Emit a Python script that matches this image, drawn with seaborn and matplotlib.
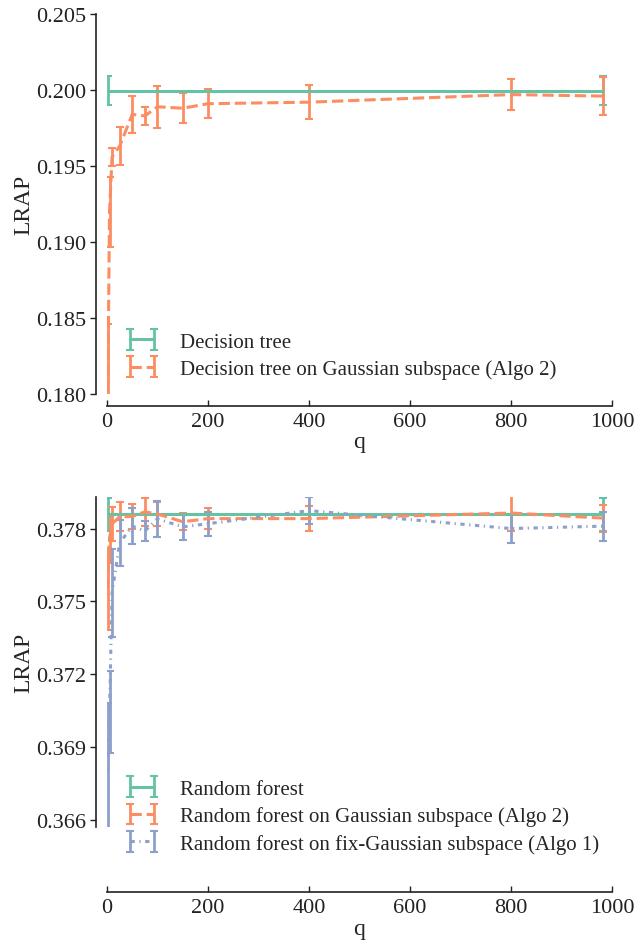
import numpy as np
import pandas as pd
import matplotlib
matplotlib.use("Agg")
import matplotlib.pyplot as plt
import seaborn as sns

# ---------------- data ----------------
q_base = [1, 983]

dt_mean = [0.19996, 0.19996]
dt_err = [0.00095, 0.00095]

q_dt_gauss = [1, 5, 10, 25, 50, 75, 100, 150, 200, 400, 800, 983]
dt_gauss_mean = [0.1780, 0.1920, 0.1956, 0.1963, 0.1984, 0.1983, 0.1989, 0.1988, 0.1991, 0.1992, 0.1997, 0.1996]
dt_gauss_err = [0.0066, 0.0023, 0.0006, 0.00126, 0.0012, 0.0006, 0.00137, 0.0010, 0.00095, 0.0011, 0.0010, 0.00126]

rf_mean = [0.37858, 0.37858]
rf_err = [0.00067, 0.00067]

q_rf = [1, 5, 10, 25, 50, 75, 100, 150, 200, 400, 800, 983]
rf_gauss_mean = [0.3755, 0.3776, 0.3782, 0.37848, 0.37850, 0.37869, 0.37860, 0.37828, 0.37841, 0.37841, 0.37864, 0.37843]
rf_gauss_err = [0.0017, 0.0010, 0.0007, 0.0006, 0.0005, 0.00058, 0.0005, 0.00036, 0.00042, 0.0005, 0.00074, 0.00056]

rf_fix_mean = [0.3680, 0.37045, 0.37535, 0.3774, 0.3781, 0.3779, 0.3784, 0.37807, 0.3782, 0.37874, 0.3780, 0.3781]
rf_fix_err = [0.0028, 0.0017, 0.0018, 0.00094, 0.00074, 0.0004, 0.00074, 0.00055, 0.0005, 0.00057, 0.0006, 0.0006]

top_yticks = [0.180, 0.185, 0.190, 0.195, 0.200, 0.205]
bot_yticks = [0.366, 0.369, 0.372, 0.375, 0.378]
xticks = [0, 200, 400, 600, 800, 1000]

labels_top = ["Decision tree", "Decision tree on Gaussian subspace (Algo 2)"]
labels_bot = ["Random forest", "Random forest on Gaussian subspace (Algo 2)",
              "Random forest on fix-Gaussian subspace (Algo 1)"]

# ---------------- style ----------------
sns.set_theme(style="ticks")
plt.rcParams['font.family'] = ['Liberation Serif', 'DejaVu Serif']
plt.rcParams['mathtext.fontset'] = 'stix'
pal = sns.color_palette("Set2")
green, orange, blue = pal[0], pal[1], pal[2]

fig = plt.figure(figsize=(6.43, 9.45), dpi=100)
ax1 = fig.add_axes([0.1664, 0.582, 0.7854, 0.4021])
ax2 = fig.add_axes([0.1664, 0.1238, 0.7854, 0.3492])

ekw = dict(elinewidth=2.0, capsize=3, capthick=1.5, lw=2.2)
dashdot = (0, (1.4, 1.5, 0.4, 1.5))

ax1.errorbar(q_base, dt_mean, yerr=dt_err, color=green, ls='-', label=labels_top[0], **ekw)
ax1.errorbar(q_dt_gauss, dt_gauss_mean, yerr=dt_gauss_err, color=orange, ls='--',
             label=labels_top[1], **ekw)

ax2.errorbar(q_base, rf_mean, yerr=rf_err, color=green, ls='-', label=labels_bot[0], **ekw)
ax2.errorbar(q_rf, rf_gauss_mean, yerr=rf_gauss_err, color=orange, ls='--',
             label=labels_bot[1], **ekw)
ax2.errorbar(q_rf, rf_fix_mean, yerr=rf_fix_err, color=blue, ls=dashdot,
             label=labels_bot[2], **ekw)

ax1.set_ylim(0.180, 0.205)
ax1.set_yticks(top_yticks)
ax1.set_yticklabels([f"{v:.3f}" for v in top_yticks])
ax2.set_ylim(0.3657, 0.3793)
ax2.set_yticks(bot_yticks)
ax2.set_yticklabels([f"{v:.3f}" for v in bot_yticks])

for ax in (ax1, ax2):
    ax.set_xlim(0, 1000)
    ax.set_xticks(xticks)
    ax.set_xlabel("q", fontsize=17, labelpad=0.5)
    ax.set_ylabel("LRAP", fontsize=17, labelpad=1)
    ax.tick_params(axis='both', labelsize=16, width=1, color='#222222', labelcolor='#222222')
    ax.tick_params(axis='x', direction='in', length=4, pad=4)
    ax.tick_params(axis='y', direction='out', length=4, pad=3)
    for s in ax.spines.values():
        s.set_linewidth(1.2)
        s.set_color('#222222')

sns.despine(ax=ax1, offset={'left': 8, 'bottom': 8.6})
sns.despine(ax=ax2, offset={'left': 8, 'bottom': 47})

leg_kw = dict(loc='lower left', frameon=False, numpoints=2, fontsize=15,
              handlelength=1.75, handletextpad=0.95, borderaxespad=0.0,
              borderpad=0.4, labelspacing=0.36)
ax1.legend(bbox_to_anchor=(0.016, 0.018), **leg_kw)
ax2.legend(bbox_to_anchor=(0.016, -0.106), **leg_kw)

fig.savefig("out.png", dpi=100)
